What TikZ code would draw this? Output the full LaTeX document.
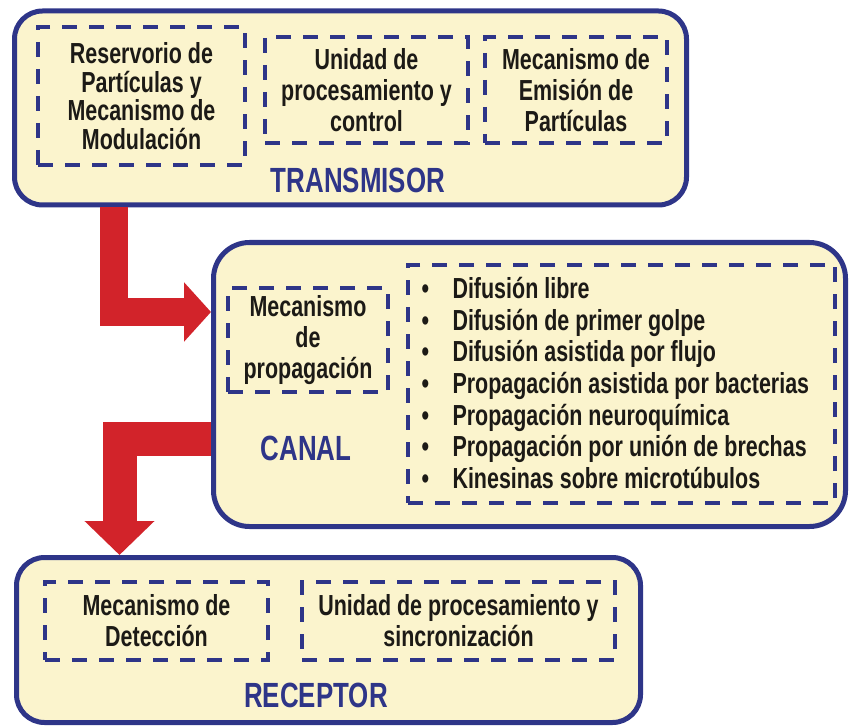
\documentclass[tikz,border=0pt]{standalone}
\usepackage{fontspec}
\setmainfont{Liberation Sans}[FakeStretch=0.74]
\usepackage{xcolor}
\usetikzlibrary{positioning}
\usetikzlibrary{arrows.meta}

\definecolor{navy}{HTML}{2E3588}
\definecolor{crema}{HTML}{FBF4CD}
\definecolor{rojo}{HTML}{D2232A}
\definecolor{tinta}{HTML}{1C1A16}

\tikzset{
  bloque/.style={draw=navy, line width=5pt, fill=crema, rounded corners=28pt, inner sep=0pt},
  parte/.style={draw=navy, line width=4pt, dash pattern=on 15pt off 12pt, inner sep=0pt,
                align=center, text=tinta, font=\fontsize{29}{31}\selectfont\bfseries},
  titulo/.style={text=navy, font=\fontsize{35}{38}\selectfont\bfseries},
  flecha/.style={draw=rojo, line join=miter}
}

\begin{document}
\begin{tikzpicture}[x=1pt,y=-1pt]
\useasboundingbox (0,0) rectangle (853,727);

% transmisor
\node[bloque, minimum width=672pt, minimum height=194pt] (tx) at (350.5,108) {};
\begin{scope}[every node/.style={parte}]
   \node[minimum width=207pt, minimum height=138pt, font=\fontsize{29}{28.5}\selectfont\bfseries] (txres) at (141.5,96)
      {Reservorio de\\Partículas y\\Mecanismo de\\Modulación};
   \node[minimum width=203pt, minimum height=106pt] (txproc) at (366.5,90)
      {Unidad de\\procesamiento y\\control};
   \node[minimum width=182pt, minimum height=106pt] (txemis) at (576,90)
      {Mecanismo de\\Emisión de\\Partículas};
\end{scope}
\node[titulo] (txtit) at (358,180) {TRANSMISOR};

% canal
\node[bloque, rounded corners=36pt, minimum width=632pt, minimum height=284pt] (ch) at (529.5,384.5) {};
\begin{scope}[every node/.style={parte}]
   \node[minimum width=160pt, minimum height=104pt] (chprop) at (308,340)
      {Mecanismo\\de\\propagación};
   \node[minimum width=427pt, minimum height=238pt] (chlist) at (621.5,384) {};
\end{scope}
\node[titulo] (chtit) at (306,448) {CANAL};
\node[anchor=west, align=left, text=tinta, font=\fontsize{29}{31.7}\selectfont\bfseries] (chitems) at (418,383)
   {\makebox[31pt][l]{\textbullet}Difusión libre\\
    \makebox[31pt][l]{\textbullet}Difusión de primer golpe\\
    \makebox[31pt][l]{\textbullet}Difusión asistida por flujo\\
    \makebox[31pt][l]{\textbullet}Propagación asistida por bacterias\\
    \makebox[31pt][l]{\textbullet}Propagación neuroquímica\\
    \makebox[31pt][l]{\textbullet}Propagación por unión de brechas\\
    \makebox[31pt][l]{\textbullet}Kinesinas sobre microtúbulos};

% receptor
\node[bloque, minimum width=624pt, minimum height=165pt] (rx) at (328.5,640) {};
\begin{scope}[every node/.style={parte}]
   \node[minimum width=223pt, minimum height=78pt] (rxdet) at (156.5,621)
      {Mecanismo de\\Detección};
   \node[minimum width=313pt, minimum height=78pt] (rxproc) at (458.5,621)
      {Unidad de procesamiento y\\sincronización};
\end{scope}
\node[titulo] (rxtit) at (316,695) {RECEPTOR};

% flechas
\draw[flecha, line width=28pt, -{Triangle[width=58pt,length=27pt]}]
   ([xshift=-236.5pt]tx.south) |- ([yshift=72.5pt]ch.west);
\draw[flecha, line width=34pt, -{Triangle[width=68pt,length=34pt]}]
   ([yshift=-54pt]ch.west) -| ([xshift=-209pt]rx.north);
\end{tikzpicture}
\end{document}
